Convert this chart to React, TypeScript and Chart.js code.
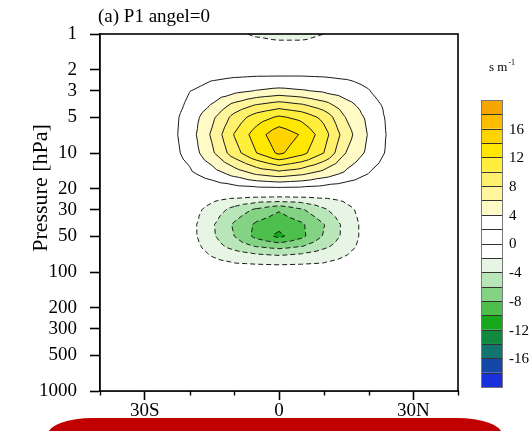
import { useEffect, useRef } from "react";
import { Chart, registerables } from "chart.js";

Chart.register(...registerables);

const SERIF = '"Liberation Serif", "Times New Roman", Times, serif';

const PANEL_TITLE = "(a) P1 angel=0";
const Y_TITLE = "Pressure [hPa]";
const UNIT_BASE = "s m";
const UNIT_EXP = "-1";

// Grid of the field: latitude (deg, S negative) by pressure level (hPa)
const LATITUDES = [-40, -35, -30, -25, -20, -15, -10, -5, 0, 5, 10, 15, 20, 25, 30, 35, 40];
const PRESSURE_LEVELS = [1, 1.5, 2, 2.5, 3, 4, 5, 7, 10, 15, 20, 25, 30, 40, 50, 60, 70, 85, 100, 150, 200, 300, 500, 700, 1000];

// One row per pressure level, one value per latitude (s m^-1)
const ROW_1 = [0, 0, 0, 0, -0.2, -0.5, -1.4, -2.4, -3.0, -3.0, -2.0, -0.6, -0.2, 0, 0, 0, 0];
const ROW_1_5 = [0, 0, 0, 0.1, 0.2, 0.3, 0.35, 0.4, 0.4, 0.4, 0.35, 0.3, 0.2, 0.1, 0, 0, 0];
const ROW_2 = [0, 0, 0.1, 0.3, 0.7, 1.0, 1.2, 1.3, 1.3, 1.3, 1.2, 1.0, 0.7, 0.3, 0.1, 0, 0];
const ROW_2_5 = [0, 0, 0.1, 0.5, 1.4, 2.05, 2.4, 2.55, 2.6, 2.6, 2.5, 2.2, 1.6, 0.6, 0.1, 0, 0];
const ROW_3 = [0, 0, 0.1, 0.6, 1.95, 2.6, 3.4, 4.1, 4.6, 4.2, 3.66, 2.9, 2.1, 0.6, 0.1, 0, 0];
const ROW_4 = [0, 0, 0.2, 0.9, 2.4, 4.2, 6.7, 8.3, 9.2, 8.45, 7.0, 4.8, 3.0, 1.3, 0.2, 0, 0];
const ROW_5 = [0, 0, 0.2, 1.1, 2.8, 5.5, 8.7, 11.0, 12.3, 11.4, 9.4, 5.9, 3.5, 1.4, 0.2, 0, 0];
const ROW_7 = [0, 0, 0.2, 1.1, 3.0, 6.3, 10.1, 13.0, 15.4, 13.8, 10.9, 6.9, 3.85, 1.5, 0.2, 0, 0];
const ROW_10 = [0, 0, 0.2, 1.0, 2.7, 5.6, 9.1, 12.0, 14.4, 12.7, 10.0, 5.95, 3.5, 1.4, 0.2, 0, 0];
const ROW_15 = [0, 0, 0.1, 0.6, 1.6, 2.9, 4.6, 6.2, 7.0, 6.3, 5.0, 3.5, 1.95, 0.8, 0.1, 0, 0];
const ROW_20 = [0, 0, 0, 0.1, 0.3, 0.7, 1.1, 1.4, 1.5, 1.4, 1.1, 0.7, 0.3, 0.1, 0, 0, 0];
const ROW_25 = [0, 0, 0, 0, -0.6, -1.7, -2.7, -3.3, -3.5, -3.3, -2.7, -1.7, -0.6, 0, 0, 0, 0];
const ROW_30 = [0, 0, 0, -0.2, -1.0, -2.8, -4.7, -6.4, -7.8, -6.3, -4.3, -2.6, -1.0, -0.2, 0, 0, 0];
const ROW_40 = [0, 0, 0, -0.3, -1.2, -3.7, -6.3, -8.4, -9.3, -8.35, -6.1, -3.3, -1.0, -0.3, 0, 0, 0];
const ROW_50 = [0, 0, 0, -0.3, -1.2, -3.6, -6.0, -8.6, -10.5, -8.5, -5.85, -3.3, -1.0, -0.3, 0, 0, 0];
const ROW_60 = [0, 0, 0, -0.2, -1.0, -3.0, -4.9, -6.3, -7.0, -6.25, -4.6, -2.8, -1.0, -0.2, 0, 0, 0];
const ROW_70 = [0, 0, 0, -0.2, -0.9, -2.25, -3.3, -4.1, -4.4, -4.05, -3.15, -2.15, -0.9, -0.2, 0, 0, 0];
const ROW_85 = [0, 0, 0, -0.1, -0.6, -1.4, -1.9, -2.1, -2.2, -2.1, -1.9, -1.4, -0.6, -0.1, 0, 0, 0];
const ROW_100 = [0, 0, 0, 0, -0.2, -0.4, -0.6, -0.75, -0.8, -0.75, -0.6, -0.4, -0.2, 0, 0, 0, 0];
const ROW_150 = [0, 0, 0, 0, 0, 0, 0, 0, 0, 0, 0, 0, 0, 0, 0, 0, 0];
const ROW_200 = [0, 0, 0, 0, 0, 0, 0, 0, 0, 0, 0, 0, 0, 0, 0, 0, 0];
const ROW_300 = [0, 0, 0, 0, 0, 0, 0, 0, 0, 0, 0, 0, 0, 0, 0, 0, 0];
const ROW_500 = [0, 0, 0, 0, 0, 0, 0, 0, 0, 0, 0, 0, 0, 0, 0, 0, 0];
const ROW_700 = [0, 0, 0, 0, 0, 0, 0, 0, 0, 0, 0, 0, 0, 0, 0, 0, 0];
const ROW_1000 = [0, 0, 0, 0, 0, 0, 0, 0, 0, 0, 0, 0, 0, 0, 0, 0, 0];

const FIELD = [
  ROW_1, ROW_1_5, ROW_2, ROW_2_5, ROW_3, ROW_4, ROW_5, ROW_7, ROW_10, ROW_15, ROW_20, ROW_25,
  ROW_30, ROW_40, ROW_50, ROW_60, ROW_70, ROW_85, ROW_100, ROW_150, ROW_200, ROW_300, ROW_500,
  ROW_700, ROW_1000,
];

// Contour levels (ascending) and the fill colour of each band between them
const CONTOUR_LEVELS = [-18, -16, -14, -12, -10, -8, -6, -4, -2, 0, 2, 4, 6, 8, 10, 12, 14, 16, 18];
const BAND_COLORS = [
  "#1a30dc", "#1548a6", "#12746e", "#0f8a3e", "#17a91b", "#4dbf4d", "#84d384", "#b8e6b8",
  "#e7f5e5", "#ffffff", "#ffffff", "#ffffff", "#fffac6", "#fff59c", "#fff16e", "#ffee3c",
  "#ffe700", "#ffd300", "#fdbc00", "#f6a600",
];
const COLORBAR_LABELS = [16, 12, 8, 4, 0, -4, -8, -12, -16];

const X_TICKS = [-30, 0, 30];
const X_TICK_LABELS = ["30S", "0", "30N"];
const X_MINOR_TICKS = [-40, -20, -10, 10, 20, 40];
const Y_TICKS = [1, 2, 3, 5, 10, 20, 30, 50, 100, 200, 300, 500, 1000];

const LOGP = PRESSURE_LEVELS.map((p) => Math.log10(p));
const NR = PRESSURE_LEVELS.length;
const NC = LATITUDES.length;

function locate(arr: number[], v: number) {
  let k = 0;
  while (k < arr.length - 2 && v > arr[k + 1]) k++;
  return k;
}

function triInterp(
  px: number, py: number,
  ax: number, ay: number, av: number,
  bx: number, by: number, bv: number,
  cx: number, cy: number, cv: number,
) {
  const det = (by - cy) * (ax - cx) + (cx - bx) * (ay - cy);
  const wa = ((by - cy) * (px - cx) + (cx - bx) * (py - cy)) / det;
  const wb = ((cy - ay) * (px - cx) + (ax - cx) * (py - cy)) / det;
  return wa * av + wb * bv + (1 - wa - wb) * cv;
}

// Piecewise-linear value on the grid, each cell split into four triangles around its centre
function sampleField(lat: number, L: number) {
  const j = locate(LATITUDES, lat);
  const i = locate(LOGP, L);
  const u = (lat - LATITUDES[j]) / (LATITUDES[j + 1] - LATITUDES[j]);
  const v = (L - LOGP[i]) / (LOGP[i + 1] - LOGP[i]);
  const f00 = FIELD[i][j], f10 = FIELD[i][j + 1], f11 = FIELD[i + 1][j + 1], f01 = FIELD[i + 1][j];
  const fc = (f00 + f10 + f11 + f01) / 4;
  const du = u - 0.5, dv = v - 0.5;
  if (Math.abs(du) >= Math.abs(dv)) {
    if (du >= 0) return triInterp(u, v, 1, 0, f10, 1, 1, f11, 0.5, 0.5, fc);
    return triInterp(u, v, 0, 0, f00, 0, 1, f01, 0.5, 0.5, fc);
  }
  if (dv >= 0) return triInterp(u, v, 0, 1, f01, 1, 1, f11, 0.5, 0.5, fc);
  return triInterp(u, v, 0, 0, f00, 1, 0, f10, 0.5, 0.5, fc);
}

function bandOf(v: number) {
  let b = 0;
  while (b < CONTOUR_LEVELS.length && v >= CONTOUR_LEVELS[b]) b++;
  return b;
}

function hexToRgb(h: string) {
  const n = parseInt(h.slice(1), 16);
  return [(n >> 16) & 255, (n >> 8) & 255, n & 255];
}
const BAND_RGB = BAND_COLORS.map(hexToRgb);

type Pt = [number, number];
type Seg = { k1: string; p1: Pt; k2: string; p2: Pt };

// Marching triangles for one level, chained into polylines
function traceLevel(level: number) {
  const segs: Seg[] = [];
  for (let i = 0; i < NR - 1; i++) {
    for (let j = 0; j < NC - 1; j++) {
      const ids = [i * NC + j, i * NC + j + 1, (i + 1) * NC + j + 1, (i + 1) * NC + j];
      const pos: Pt[] = [
        [LATITUDES[j], LOGP[i]], [LATITUDES[j + 1], LOGP[i]],
        [LATITUDES[j + 1], LOGP[i + 1]], [LATITUDES[j], LOGP[i + 1]],
      ];
      const vals = [FIELD[i][j], FIELD[i][j + 1], FIELD[i + 1][j + 1], FIELD[i + 1][j]];
      const cid = NR * NC + i * (NC - 1) + j;
      const cpos: Pt = [(LATITUDES[j] + LATITUDES[j + 1]) / 2, (LOGP[i] + LOGP[i + 1]) / 2];
      const cval = (vals[0] + vals[1] + vals[2] + vals[3]) / 4;
      for (let k = 0; k < 4; k++) {
        const m = (k + 1) % 4;
        const tri: [number, Pt, number][] = [
          [ids[k], pos[k], vals[k]], [ids[m], pos[m], vals[m]], [cid, cpos, cval],
        ];
        const hits: { key: string; p: Pt }[] = [];
        for (let e = 0; e < 3; e++) {
          const A = tri[e], B = tri[(e + 1) % 3];
          const aAbove = A[2] >= level, bAbove = B[2] >= level;
          if (aAbove === bAbove) continue;
          const t = (level - A[2]) / (B[2] - A[2]);
          const key = A[0] < B[0] ? `${A[0]}_${B[0]}` : `${B[0]}_${A[0]}`;
          hits.push({ key, p: [A[1][0] + t * (B[1][0] - A[1][0]), A[1][1] + t * (B[1][1] - A[1][1])] });
        }
        if (hits.length === 2) segs.push({ k1: hits[0].key, p1: hits[0].p, k2: hits[1].key, p2: hits[1].p });
      }
    }
  }
  const byKey = new Map<string, number[]>();
  segs.forEach((s, idx) => {
    for (const k of [s.k1, s.k2]) {
      if (!byKey.has(k)) byKey.set(k, []);
      byKey.get(k)!.push(idx);
    }
  });
  const used = new Array(segs.length).fill(false);
  const chains: { pts: Pt[]; closed: boolean }[] = [];
  const follow = (start: number, fromKey: string) => {
    const pts: Pt[] = [];
    let cur = start;
    let entry = fromKey;
    pts.push(segs[cur].k1 === entry ? segs[cur].p1 : segs[cur].p2);
    while (cur >= 0 && !used[cur]) {
      used[cur] = true;
      const s = segs[cur];
      const forward = s.k1 === entry;
      const exitKey = forward ? s.k2 : s.k1;
      pts.push(forward ? s.p2 : s.p1);
      const nexts = (byKey.get(exitKey) || []).filter((n) => n !== cur && !used[n]);
      entry = exitKey;
      cur = nexts.length ? nexts[0] : -1;
    }
    return pts;
  };
  byKey.forEach((list, key) => {
    if (list.length === 1 && !used[list[0]]) chains.push({ pts: follow(list[0], key), closed: false });
  });
  segs.forEach((s, idx) => {
    if (!used[idx]) chains.push({ pts: follow(idx, s.k1), closed: true });
  });
  return chains;
}

const contourPlugin = {
  id: "contourField",
  beforeDatasetsDraw(chart: any) {
    const { ctx, chartArea } = chart;
    const xs = chart.scales.x;
    const ys = chart.scales.y;
    const left = Math.round(chartArea.left);
    const top = Math.round(chartArea.top);
    const w = Math.round(chartArea.right) - left;
    const h = Math.round(chartArea.bottom) - top;

    // filled bands
    const off = document.createElement("canvas");
    off.width = w;
    off.height = h;
    const octx = off.getContext("2d")!;
    const img = octx.createImageData(w, h);
    for (let py = 0; py < h; py++) {
      const L = Math.log10(ys.getValueForPixel(top + py + 0.5));
      for (let px = 0; px < w; px++) {
        const lat = xs.getValueForPixel(left + px + 0.5);
        const c = BAND_RGB[bandOf(sampleField(lat, L))];
        const o = (py * w + px) * 4;
        img.data[o] = c[0];
        img.data[o + 1] = c[1];
        img.data[o + 2] = c[2];
        img.data[o + 3] = 255;
      }
    }
    octx.putImageData(img, 0, 0);
    ctx.save();
    ctx.drawImage(off, left, top);

    // contour lines: solid for positive, dashed for negative, no zero line
    ctx.beginPath();
    ctx.rect(chartArea.left, chartArea.top, chartArea.right - chartArea.left, chartArea.bottom - chartArea.top);
    ctx.clip();
    ctx.strokeStyle = "#1a1a1a";
    ctx.lineWidth = 1;
    ctx.lineJoin = "round";
    for (const level of CONTOUR_LEVELS) {
      if (level === 0) continue;
      ctx.setLineDash(level < 0 ? [5, 3] : []);
      for (const chain of traceLevel(level)) {
        ctx.beginPath();
        chain.pts.forEach(([lat, L], n) => {
          const X = xs.getPixelForValue(lat);
          const Y = ys.getPixelForValue(Math.pow(10, L));
          if (n === 0) ctx.moveTo(X, Y);
          else ctx.lineTo(X, Y);
        });
        if (chain.closed) ctx.closePath();
        ctx.stroke();
      }
    }
    ctx.restore();
  },
  afterDraw(chart: any) {
    const { ctx, chartArea } = chart;
    const xs = chart.scales.x;
    ctx.save();
    // frame
    ctx.strokeStyle = "#000";
    ctx.lineWidth = 1.6;
    ctx.setLineDash([]);
    ctx.strokeRect(chartArea.left, chartArea.top, chartArea.right - chartArea.left, chartArea.bottom - chartArea.top);
    // minor longitude ticks
    ctx.lineWidth = 1.4;
    for (const v of X_MINOR_TICKS) {
      const X = Math.round(xs.getPixelForValue(v)) + 0.5;
      ctx.beginPath();
      ctx.moveTo(X, chartArea.bottom);
      ctx.lineTo(X, chartArea.bottom + 4.5);
      ctx.stroke();
    }

    // panel title
    ctx.fillStyle = "#000";
    ctx.font = `19px ${SERIF}`;
    ctx.textAlign = "left";
    ctx.textBaseline = "alphabetic";
    ctx.fillText(PANEL_TITLE, 98, 22);

    // vertical axis title
    ctx.save();
    ctx.translate(47, 188);
    ctx.rotate(-Math.PI / 2);
    ctx.textAlign = "center";
    ctx.font = `22px ${SERIF}`;
    ctx.fillText(Y_TITLE, 0, 0);
    ctx.restore();

    // colour bar
    const cbLeft = 481, cbTop = 100, cbBottom = 387, cbWidth = 21;
    const nb = BAND_COLORS.length;
    const bh = (cbBottom - cbTop) / nb;
    for (let k = 0; k < nb; k++) {
      const band = nb - 1 - k;
      ctx.fillStyle = BAND_COLORS[band];
      ctx.fillRect(cbLeft, cbTop + k * bh, cbWidth, bh);
    }
    ctx.strokeStyle = "#333";
    ctx.lineWidth = 1;
    for (let k = 0; k <= nb; k++) {
      const Y = Math.round(cbTop + k * bh) + 0.5;
      ctx.beginPath();
      ctx.moveTo(cbLeft, Y);
      ctx.lineTo(cbLeft + cbWidth, Y);
      ctx.stroke();
    }
    ctx.strokeStyle = "#777";
    ctx.strokeRect(cbLeft + 0.5, cbTop + 0.5, cbWidth, cbBottom - cbTop);
    ctx.fillStyle = "#000";
    ctx.font = `15px ${SERIF}`;
    ctx.textAlign = "left";
    ctx.textBaseline = "middle";
    for (const v of COLORBAR_LABELS) {
      const li = CONTOUR_LEVELS.indexOf(v);
      const k = CONTOUR_LEVELS.length - 1 - li;
      const Y = cbTop + (k + 1) * bh;
      ctx.fillText(String(v), 509, Y + 1);
    }
    // unit
    ctx.textBaseline = "alphabetic";
    ctx.font = `13px ${SERIF}`;
    ctx.fillText(UNIT_BASE, 489, 71);
    const bw = ctx.measureText(UNIT_BASE).width;
    ctx.font = `8px ${SERIF}`;
    ctx.fillText(UNIT_EXP, 489 + bw + 1, 65);
    ctx.restore();
  },
};

export default function App() {
  const ref = useRef<HTMLCanvasElement>(null);
  useEffect(() => {
    const canvas = ref.current!;
    const chart = new Chart(canvas, {
      type: "scatter",
      data: { datasets: [] },
      options: {
        animation: false,
        responsive: false,
        devicePixelRatio: 1,
        layout: { padding: { left: 0, right: 72, top: 34, bottom: 0 } },
        plugins: { legend: { display: false }, tooltip: { enabled: false }, title: { display: false } },
        scales: {
          x: {
            type: "linear",
            position: "bottom",
            min: -40,
            max: 40,
            afterBuildTicks: (s: any) => {
              s.ticks = X_TICKS.map((v) => ({ value: v }));
            },
            afterFit: (s: any) => {
              s.height = 40;
            },
            ticks: {
              autoSkip: false,
              maxRotation: 0,
              padding: 0,
              color: "#000",
              font: { family: SERIF, size: 19 },
              callback: (v: any) => X_TICK_LABELS[X_TICKS.indexOf(Number(v))] ?? "",
            },
            grid: { drawOnChartArea: false, drawTicks: true, tickLength: 9, tickWidth: 1.6, tickColor: "#000" },
            border: { display: true, color: "#000", width: 1.6 },
          },
          y: {
            type: "logarithmic",
            position: "left",
            min: 1,
            max: 1000,
            reverse: true,
            afterBuildTicks: (s: any) => {
              s.ticks = Y_TICKS.map((v) => ({ value: v }));
            },
            afterFit: (s: any) => {
              s.width = 100;
            },
            ticks: {
              autoSkip: false,
              padding: 13,
              color: "#000",
              font: { family: SERIF, size: 19 },
              callback: (v: any) => String(v),
            },
            grid: { drawOnChartArea: false, drawTicks: true, tickLength: 10, tickWidth: 1.6, tickColor: "#000" },
            border: { display: true, color: "#000", width: 1.6 },
          },
        },
      },
      plugins: [contourPlugin],
    } as any);
    return () => chart.destroy();
  }, []);

  return (
    <div style={{ position: "absolute", left: 0, top: 0, width: 530, height: 431, overflow: "hidden", background: "#fff" }}>
      <canvas ref={ref} width={530} height={431} style={{ display: "block", width: 530, height: 431 }} />
      <div
        style={{
          position: "absolute",
          left: 48,
          top: 418,
          width: 454,
          height: 40,
          background: "#c00000",
          borderRadius: "45px / 16px",
        }}
      />
    </div>
  );
}
